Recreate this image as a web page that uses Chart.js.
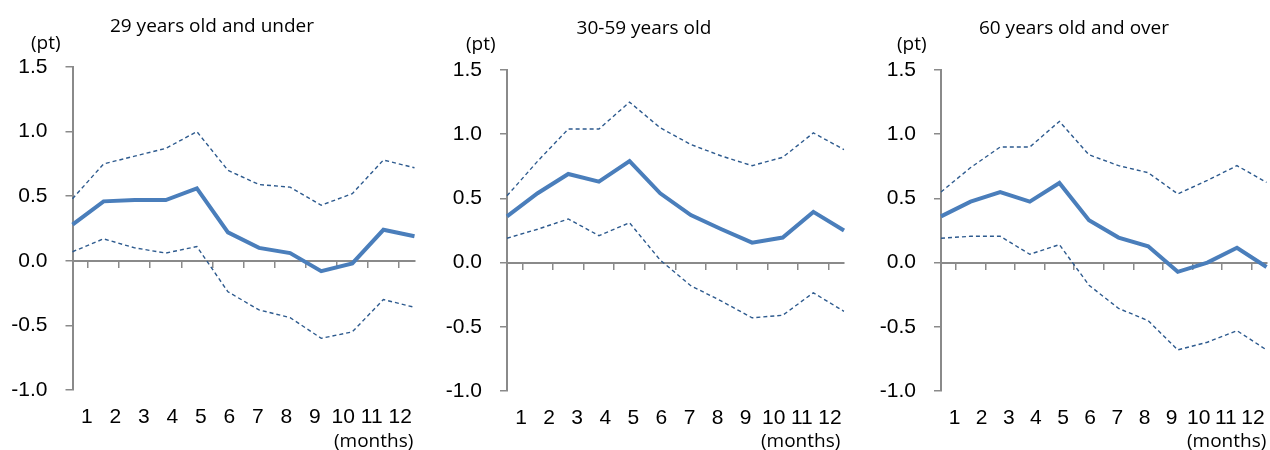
<!DOCTYPE html>
<html>
<head>
<meta charset="utf-8">
<script src="https://cdn.jsdelivr.net/npm/chart.js@4"></script>
<style>
    html, body { margin: 0; padding: 0; background: #fff; }
    body { width: 1270px; height: 450px; position: relative; overflow: hidden; }
    .panel { position: absolute; top: 0; height: 450px; }
    .txt { position: absolute; font-family: 'Open Sans', sans-serif; font-size: 19px; color: #000; white-space: nowrap; }
    .title { transform: translate(-50%, -50%); }
    .unit { transform: translateY(-50%); }
</style>
</head>
<body>
<div class="panel" style="left:0;width:430px"><canvas id="g1"></canvas></div>
<div class="panel" style="left:430px;width:430px"><canvas id="g2"></canvas></div>
<div class="panel" style="left:860px;width:420px"><canvas id="g3"></canvas></div>

<div class="txt title" style="left:212px;top:25px">29 years old and under</div>
<div class="txt title" style="left:644px;top:27px">30-59 years old</div>
<div class="txt title" style="left:1074px;top:27px">60 years old and over</div>
<div class="txt unit" style="left:31px;top:42px">(pt)</div>
<div class="txt unit" style="left:466px;top:43px">(pt)</div>
<div class="txt unit" style="left:897px;top:43px">(pt)</div>
<div class="txt unit" style="left:334px;top:440px">(months)</div>
<div class="txt unit" style="left:761px;top:440px">(months)</div>
<div class="txt unit" style="left:1187px;top:440px">(months)</div>

<script>
// Dados
const meses = ['1', '2', '3', '4', '5', '6', '7', '8', '9', '10', '11', '12'];

// 29 anos ou menos
const jovemMedia = [0.28, 0.46, 0.47, 0.47, 0.56, 0.22, 0.10, 0.06, -0.08, -0.02, 0.24, 0.19];
const jovemSup = [0.48, 0.75, 0.81, 0.87, 1.00, 0.70, 0.59, 0.57, 0.43, 0.52, 0.78, 0.72];
const jovemInf = [0.07, 0.17, 0.10, 0.06, 0.11, -0.24, -0.38, -0.44, -0.60, -0.55, -0.30, -0.36];

// 30-59 anos
const adultoMedia = [0.36, 0.54, 0.69, 0.63, 0.79, 0.54, 0.37, 0.26, 0.155, 0.195, 0.395, 0.25];
const adultoSup = [0.52, 0.79, 1.04, 1.04, 1.25, 1.05, 0.92, 0.83, 0.755, 0.82, 1.01, 0.88];
const adultoInf = [0.19, 0.26, 0.34, 0.21, 0.31, 0.02, -0.18, -0.30, -0.43, -0.41, -0.235, -0.38];

// 60 anos ou mais
const idosoMedia = [0.36, 0.475, 0.55, 0.475, 0.62, 0.33, 0.195, 0.127, -0.072, 0.0, 0.116, -0.034];
const idosoSup = [0.55, 0.74, 0.90, 0.90, 1.10, 0.84, 0.755, 0.70, 0.535, 0.64, 0.755, 0.625];
const idosoInf = [0.19, 0.205, 0.205, 0.065, 0.14, -0.176, -0.357, -0.452, -0.68, -0.62, -0.53, -0.68];

const yTicks = [-1.0, -0.5, 0.0, 0.5, 1.0, 1.5];

const corEixo = '#8a8a8a';
const corLinha = '#4a7ebb';
const corTracejado = '#2d5a8e';
const fonteNum = { family: "'Liberation Sans', Arial, sans-serif", size: 21 };

function criarGrafico(id, media, sup, inf, cfg) {
    const ctx = document.getElementById(id).getContext('2d');
    const tracejado = (dados) => ({
        data: dados,
        borderColor: corTracejado,
        borderWidth: 1.4,
        borderDash: [4, 3],
        pointRadius: 0,
        tension: 0,
        fill: false
    });

    return new Chart(ctx, {
        type: 'line',
        data: {
            labels: meses,
            datasets: [
                tracejado(sup),
                tracejado(inf),
                {
                    data: media,
                    borderColor: corLinha,
                    borderWidth: 4,
                    pointRadius: 0,
                    tension: 0,
                    fill: false
                }
            ]
        },
        options: {
            responsive: true,
            maintainAspectRatio: false,
            animation: false,
            layout: {
                padding: { top: cfg.top, right: cfg.right, bottom: 0, left: 0 }
            },
            plugins: {
                legend: { display: false },
                tooltip: { enabled: false }
            },
            scales: {
                y: {
                    min: yTicks[0],
                    max: yTicks[yTicks.length - 1],
                    afterFit: (scale) => { scale.width = cfg.left; },
                    afterBuildTicks: (scale) => {
                        scale.ticks = yTicks.map(v => ({ value: v }));
                    },
                    ticks: {
                        color: '#000',
                        font: fonteNum,
                        padding: 18,
                        callback: (v) => Number(v).toFixed(1)
                    },
                    grid: {
                        drawOnChartArea: false,
                        color: corEixo,
                        lineWidth: 1.5,
                        tickLength: 7
                    },
                    border: { color: corEixo, width: 2 }
                },
                x: {
                    type: 'category',
                    position: { y: 0 },
                    ticks: { display: false },
                    grid: {
                        drawOnChartArea: false,
                        offset: true,
                        color: corEixo,
                        lineWidth: 1.5,
                        tickLength: 6
                    },
                    border: { color: corEixo, width: 2 }
                },
                x2: {
                    type: 'category',
                    position: 'bottom',
                    offset: true,
                    afterFit: (scale) => { scale.height = cfg.bottom; },
                    ticks: {
                        color: '#000',
                        font: fonteNum,
                        padding: 15,
                        autoSkip: false,
                        maxRotation: 0
                    },
                    grid: { display: false, drawTicks: false },
                    border: { display: false }
                }
            }
        }
    });
}

criarGrafico('g1', jovemMedia, jovemSup, jovemInf, { left: 72.5, top: 67, right: 15.5, bottom: 60 });
criarGrafico('g2', adultoMedia, adultoSup, adultoInf, { left: 77, top: 70, right: 16, bottom: 59 });
criarGrafico('g3', idosoMedia, idosoSup, idosoInf, { left: 81, top: 70, right: 8, bottom: 59 });
</script>
</body>
</html>
